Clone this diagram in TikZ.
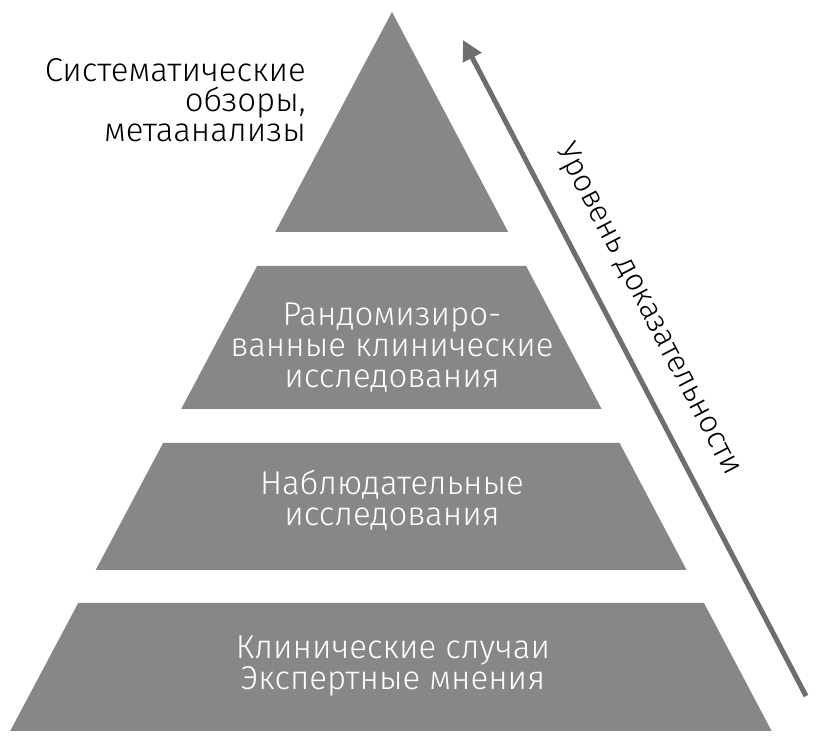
\documentclass[tikz,border=0pt]{standalone}
\usepackage{fontspec}
\setmainfont{Fira Sans Light}
\usetikzlibrary{arrows.meta}
\definecolor{pyr}{HTML}{878787}
\definecolor{arrc}{HTML}{6E6E6E}
\tikzset{
  tier/.style={fill=pyr, draw=none},
  lbl/.style={font=\fontsize{33}{31}\selectfont, text=white, align=center, inner sep=0pt},
  side/.style={font=\fontsize{33}{30}\selectfont, text=black, align=right, inner sep=0pt},
  arr/.style={draw=arrc, line width=5pt, -{Triangle[length=20pt,width=20pt]}},
}
\begin{document}
\begin{tikzpicture}[x=1pt,y=1pt]
\useasboundingbox (0,0) rectangle (820,742);
% tiers
\fill[tier] (392,730) -- (508.2,510) -- (275.2,510) -- cycle;
\fill[tier] (257.1,476) -- (526.1,476) -- (601.6,333) -- (181.2,333) -- cycle;
\fill[tier] (163.1,299) -- (619.6,299) -- (686.6,172) -- (95.7,172) -- cycle;
\fill[tier] (78.2,139) -- (704.0,139) -- (771.6,11) -- (10.2,11) -- cycle;
% labels
\node[side, anchor=east] (top) at (306,642) {Систематические\\обзоры,\\метаанализы};
\node[lbl] (rct) at (392,394) {Рандомизиро-\\ванные клинические\\исследования};
\node[lbl] (obs) at (392,242) {Наблюдательные\\исследования};
\node[lbl] (case) at (393,76) {Клинические случаи\\Экспертные мнения};
% arrow
\coordinate (atail) at (806,46);
\coordinate (atip) at (463,702);
\draw[arr] (atail) -- (atip);
\node[font=\fontsize{31}{31}\selectfont, rotate=-62.5, inner sep=0pt] (lvl) at (648,432) {Уровень доказательности};
\end{tikzpicture}
\end{document}
